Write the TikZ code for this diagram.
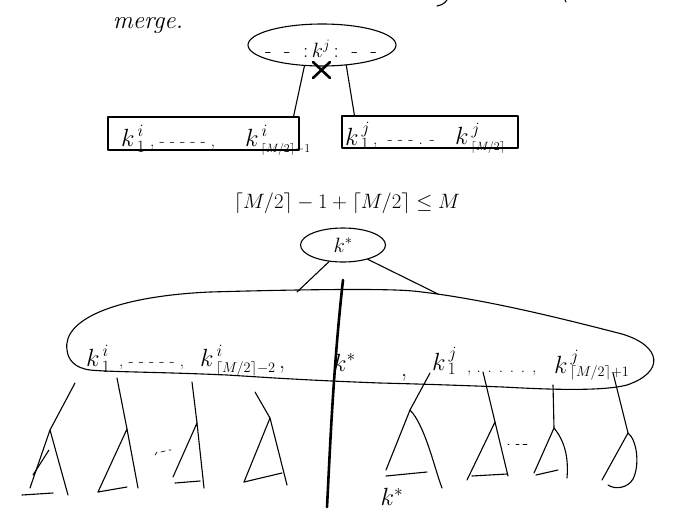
\documentclass[tikz,border=0pt]{standalone}
\usetikzlibrary{shapes.geometric,calc}
\tikzset{
  hand/.style={line width=1.1pt, line cap=round, line join=round},
  heavy/.style={line width=2.6pt, line cap=round},
  oval/.style={ellipse, draw, hand, inner sep=0pt},
  boxnode/.style={rectangle, draw, hand, inner sep=0pt},
  txt/.style={inner sep=0pt, font=\fontsize{24}{26}\selectfont},
  bigtxt/.style={inner sep=0pt, font=\fontsize{27}{29}\selectfont},
  dashtxt/.style={inner sep=0pt, font=\fontsize{17}{19}\selectfont},
}
\begin{document}
\begin{tikzpicture}[x=1pt,y=-1pt]
\useasboundingbox (0,0) rectangle (690,517);
% fragments of cut-off text at top
\draw[hand] (437,6) .. controls (442,5) and (445,3) .. (447,0);
\draw[hand] (565,0) -- (566,2);

% ---------- top part ----------
\node[inner sep=0pt, font=\itshape\fontsize{25}{27}\selectfont] (merge) at (148,26) {merge.};
\node[oval, minimum width=148pt, minimum height=42pt] (topell) at (322,45) {};
\node[inner sep=0pt, font=\fontsize{21}{23}\selectfont] (toptext) at (321,49) {-\ \ -\ \ :\,$k^{j}$\,:\ \ -\ \ -};
\draw[heavy] (313,62) -- (330,78) (330,62) -- (313,78);

\node[boxnode, minimum width=191pt, minimum height=33pt] (lbox) at (203.5,133.5) {};
\node[boxnode, minimum width=176pt, minimum height=32pt] (rbox) at (430,132) {};
\draw[hand] (topell.230) -- ($(lbox.north east)+(-6,0)$);
\draw[hand] (topell.320) -- ($(rbox.north west)+(13,0)$);

\node[txt, anchor=base west] (l1) at (121,146) {$k^{\,i}_{\,1}$};
\node[dashtxt, anchor=base west] (l2) at (150,146) {,\ - - - - - ,};
\node[txt, anchor=base west] (l3) at (245,146) {$k^{\,i}_{\,\scriptscriptstyle\lceil M/2\rceil-1}$};

\node[txt, anchor=base west] (r1) at (345,145) {$k^{\,j}_{\,1}$};
\node[dashtxt, anchor=base west] (r2) at (373,144) {,\ \ - - - . -};
\node[txt, anchor=base west] (r3) at (455,144) {$k^{\,j}_{\,\scriptscriptstyle\lceil M/2\rceil}$};

% ---------- inequality ----------
\node[inner sep=0pt, font=\fontsize{21}{23}\selectfont] (ineq) at (347,203) {$\lceil M/2\rceil-1+\lceil M/2\rceil\le M$};

% ---------- lower part ----------
\node[oval, minimum width=85pt, minimum height=34pt, font=\fontsize{22}{24}\selectfont] (kell) at (343,245) {$k^*$};
\coordinate (e1) at (297,292);
\coordinate (e2) at (438,294);
\draw[hand] (kell.230) -- (e1);
\draw[hand] (kell.330) -- (e2);

\draw[hand] (67,350) .. controls (62,318) and (120,296) .. (210,292)
  .. controls (280,290) and (380,288) .. (413,291)
  .. controls (480,298) and (560,318) .. (622,334)
  .. controls (662,346) and (665,372) .. (627,385)
  .. controls (600,392) and (540,389) .. (503,387)
  .. controls (450,385) and (420,384) .. (380,383)
  .. controls (300,380) and (260,377) .. (227,375)
  .. controls (160,372) and (110,372) .. (90,370)
  .. controls (75,368) and (68,360) .. (67,350) -- cycle;

\coordinate (vtop) at (343,280);
\coordinate (vbot) at (327,507);
\draw[heavy] (vtop) .. controls (333,370) and (330,450) .. (vbot);

\node[bigtxt, anchor=base west] (b1) at (86,366) {$k^{\,i}_{\,1}$};
\node[dashtxt, anchor=base west] (b2) at (119,366) {,\ - - - - - ,};
\node[bigtxt, anchor=base west] (b3) at (200,366) {$k^{\,i}_{\,\scriptscriptstyle\lceil M/2\rceil-2}$};
\node[txt, anchor=base west] (b4) at (279,368) {,};
\node[bigtxt, anchor=base west] (b5) at (333,371) {$k^*$};
\node[txt, anchor=base west] (b6) at (401,376) {,};
\node[bigtxt, anchor=base west] (b7) at (432,370) {$k^{\,j}_{\,1}$};
\node[dashtxt, anchor=base west] (b8) at (467,372) {,\ . . . . . ,};
\node[bigtxt, anchor=base west] (b9) at (554,373) {$k^{\,j}_{\,\scriptscriptstyle\lceil M/2\rceil+1}$};

% subtrees: top of link and apex
\coordinate (t1) at (75,383);  \coordinate (a1) at (50,430);
\coordinate (t2) at (117,378); \coordinate (a2) at (127,429);
\coordinate (t3) at (192,382); \coordinate (a3) at (197,423);
\coordinate (t4) at (255,392); \coordinate (a4) at (270,418);
\coordinate (t5) at (430,373); \coordinate (a5) at (410,410);
\coordinate (t6) at (483,372); \coordinate (a6) at (495,422);
\coordinate (t7) at (553,385); \coordinate (a7) at (554,428);
\coordinate (t8) at (613,373); \coordinate (a8) at (628,433);

\foreach \i in {1,...,8} { \draw[hand] (t\i) -- (a\i); }

\draw[hand] (30,488) -- (a1) -- (68,495);  \draw[hand] (22,495) -- (53,493);
\draw[hand] (49,450) -- (33,475);
\draw[hand] (98,492) -- (a2) -- (138,488); \draw[hand] (98,492) -- (127,487);
\draw[hand] (173,477) -- (a3) -- (204,488); \draw[hand] (175,483) -- (200,481);
\draw[hand] (244,482) -- (a4) -- (287,485); \draw[hand] (244,482) -- (282,473);
\draw[hand] (386,470) -- (a5) .. controls (425,425) and (435,470) .. (442,488); \draw[hand] (386,476) -- (427,472);
\draw[hand] (467,480) -- (a6) -- (508,476); \draw[hand] (472,476) -- (507,474);
\draw[hand] (534,473) -- (a7) .. controls (568,445) and (568,465) .. (567,478); \draw[hand] (536,475) -- (558,470);
\draw[hand] (602,480) -- (a8) .. controls (637,440) and (640,465) .. (633,479)
            .. controls (628,488) and (615,490) .. (608,485);

% ellipsis marks between subtrees
\draw[hand, line width=0.7pt] (155,455) -- (157,452) (161,452) -- (165,451) (169,450) -- (171,450);
\draw[hand, line width=0.7pt] (508,444) -- (509,444) (516,444) -- (519,444) (523,444) -- (527,444);

\node[inner sep=0pt, font=\fontsize{26}{28}\selectfont] (kstar) at (392,497) {$k^*$};
\end{tikzpicture}
\end{document}
